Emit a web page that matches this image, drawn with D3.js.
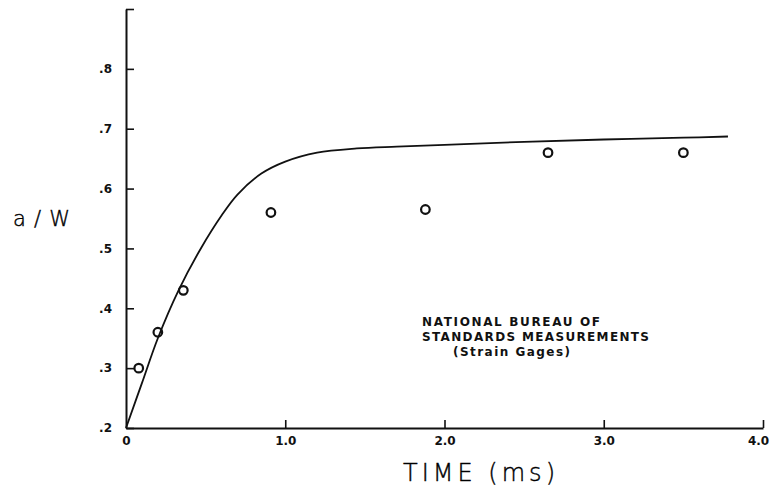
<!DOCTYPE html>
<html lang="en">
  <head>
    <meta charset="UTF-8" />
    <title>a/W vs time</title>
    <script src="https://d3js.org/d3.v7.min.js"></script>
    <style>
      html,
      body {
        margin: 0;
        padding: 0;
        background: #ffffff;
      }
      .tick text {
        font-family: "DejaVu Sans", sans-serif;
        font-weight: bold;
        font-size: 12px;
        fill: #111;
      }
      .legend {
        font-family: "DejaVu Sans", sans-serif;
        font-weight: bold;
        font-size: 12px;
        fill: #111;
      }
      .title {
        font-family: "DejaVu Sans", sans-serif;
        font-weight: 200;
        fill: #000;
        stroke: #000;
        stroke-width: 0.4px;
      }
    </style>
  </head>
  <body>
    <div id="viz"></div>

    <script>
      // measured points (circles)
      const pointTime = [0.08, 0.2, 0.36, 0.91, 1.88, 2.65, 3.5];
      const pointAW = [0.3, 0.36, 0.43, 0.56, 0.565, 0.66, 0.66];

      // calculated curve
      const curveTime = [0, 0.1, 0.2, 0.33, 0.47, 0.6, 0.7, 0.85, 1.0, 1.2, 1.45, 1.7, 2.0, 2.5, 3.0, 3.5, 3.78];
      const curveAW = [0.2, 0.275, 0.35, 0.43, 0.5, 0.555, 0.59, 0.625, 0.645, 0.66, 0.667, 0.67, 0.673, 0.678, 0.682, 0.685, 0.687];

      // axis ticks
      const xTicks = [0, 1, 2, 3, 4];
      const xTickLabels = ["0", "1.0", "2.0", "3.0", "4.0"];
      const yTicks = [0.2, 0.3, 0.4, 0.5, 0.6, 0.7, 0.8, 0.9];
      const yTickLabels = [".2", ".3", ".4", ".5", ".6", ".7", ".8", ""];

      const legendLines = ["NATIONAL BUREAU OF", "STANDARDS MEASUREMENTS", "(Strain Gages)"];

      const width = 771;
      const height = 486;
      const margin = { top: 9, right: 8, bottom: 58, left: 126 };

      const svg = d3
        .select("#viz")
        .append("svg")
        .attr("width", width)
        .attr("height", height);

      const xScale = d3.scaleLinear().domain([0, 4]).range([margin.left, width - margin.right]);
      const yScale = d3.scaleLinear().domain([0.2, 0.9]).range([height - margin.bottom, margin.top]);

      const xAxis = d3
        .axisBottom(xScale)
        .tickValues(xTicks)
        .tickFormat((d, i) => xTickLabels[i])
        .tickSizeInner(-8)
        .tickSizeOuter(0)
        .tickPadding(8);

      const yAxis = d3
        .axisLeft(yScale)
        .tickValues(yTicks)
        .tickFormat((d, i) => yTickLabels[i])
        .tickSizeInner(-8)
        .tickSizeOuter(0)
        .tickPadding(14);

      const gx = svg
        .append("g")
        .attr("transform", `translate(0,${yScale(0.2)})`)
        .call(xAxis);

      const gy = svg
        .append("g")
        .attr("transform", `translate(${xScale(0)},0)`)
        .call(yAxis);

      [gx, gy].forEach((g) => {
        g.select(".domain").attr("stroke", "#111").attr("stroke-width", 2);
        g.selectAll(".tick line").attr("stroke", "#111").attr("stroke-width", 1.6);
      });
      // the "0" on x and ".2" on y both sit at the corner
      gx.selectAll(".tick").filter((d) => d === 0).select("line").remove();
      // keep the last label inside the window
      gx.selectAll(".tick").filter((d) => d === 4).select("text").attr("dx", -5);

      // curve
      const line = d3
        .line()
        .x((d, i) => xScale(curveTime[i]))
        .y((d, i) => yScale(curveAW[i]))
        .curve(d3.curveCatmullRom.alpha(0.5));

      svg
        .append("path")
        .datum(curveAW)
        .attr("d", line)
        .attr("fill", "none")
        .attr("stroke", "#111")
        .attr("stroke-width", 1.8);

      // points
      svg
        .selectAll("circle.pt")
        .data(pointAW)
        .join("circle")
        .attr("class", "pt")
        .attr("cx", (d, i) => xScale(pointTime[i]))
        .attr("cy", (d) => yScale(d))
        .attr("r", 4.3)
        .attr("fill", "none")
        .attr("stroke", "#111")
        .attr("stroke-width", 2.2);

      // legend text
      const legend = svg.append("g").attr("class", "legend");
      legend
        .append("text")
        .attr("x", 422)
        .attr("y", 326)
        .attr("textLength", 178)
        .attr("lengthAdjust", "spacing")
        .text(legendLines[0]);
      legend
        .append("text")
        .attr("x", 422)
        .attr("y", 341)
        .attr("textLength", 227)
        .attr("lengthAdjust", "spacing")
        .text(legendLines[1]);
      legend
        .append("text")
        .attr("x", 453)
        .attr("y", 356)
        .attr("textLength", 117)
        .attr("lengthAdjust", "spacing")
        .text(legendLines[2]);

      // axis titles
      svg
        .append("text")
        .attr("class", "title")
        .attr("x", 403)
        .attr("y", 481)
        .attr("font-size", 24)
        .attr("textLength", 152)
        .attr("lengthAdjust", "spacing")
        .text("TIME (ms)");

      svg
        .append("text")
        .attr("class", "title")
        .attr("x", 13)
        .attr("y", 226)
        .attr("font-size", 21)
        .attr("textLength", 57)
        .attr("lengthAdjust", "spacing")
        .text("a/W");
    </script>
  </body>
</html>
